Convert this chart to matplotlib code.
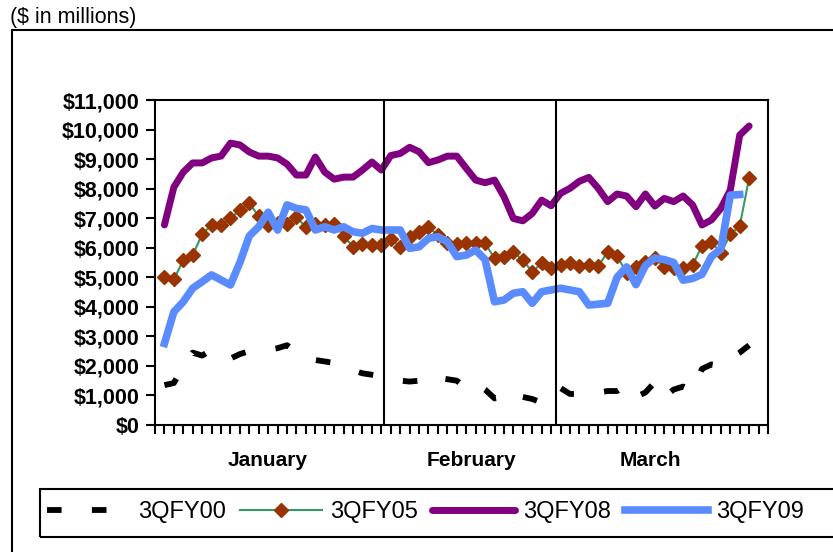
import matplotlib.pyplot as plt
import matplotlib.transforms as mtransforms
from matplotlib.patches import Rectangle
import numpy as np

plt.rcParams['font.family'] = ['Liberation Sans', 'DejaVu Sans']

# daily balances, $ in millions
fy00 = [1350, 1420, 2000, 2450, 2350, 2550, 2300, 2250, 2400, 2500,
        2550, 2550, 2600, 2700, 2450, 2300, 2200, 2150, 2100, 1950,
        1850, 1750, 1700, 1650, 1550, 1500, 1470, 1500, 1700, 1600,
        1550, 1500, 1250, 1400, 1200, 900, 950, 1150, 950, 880,
        760, 1150, 1250, 1050, 1050, 1100, 1100, 1150, 1150, 1350,
        950, 1100, 1450, 950, 1200, 1300, 1150, 1900, 2050, 2000,
        2250, 2450, 2700]
fy05 = [5020, 4930, 5580, 5750, 6460, 6770, 6770, 6990, 7280, 7500,
        7070, 6770, 6850, 6800, 7050, 6690, 6800, 6770, 6820, 6400,
        6030, 6130, 6090, 6100, 6300, 6030, 6370, 6540, 6690, 6430,
        6170, 6120, 6170, 6150, 6150, 5640, 5700, 5860, 5580, 5190,
        5470, 5300, 5410, 5490, 5380, 5410, 5380, 5860, 5720, 5150,
        5360, 5530, 5640, 5360, 5300, 5300, 5410, 6060, 6200, 5810,
        6460, 6730, 8370]
fy08 = [6770, 8050, 8560, 8870, 8870, 9040, 9100, 9540, 9480, 9240,
        9100, 9100, 9040, 8830, 8460, 8460, 9070, 8560, 8320, 8390,
        8390, 8630, 8900, 8630, 9120, 9190, 9400, 9250, 8880, 8970,
        9100, 9100, 8690, 8290, 8200, 8290, 7730, 6990, 6910, 7160,
        7610, 7420, 7840, 8010, 8250, 8380, 8010, 7560, 7820, 7750,
        7390, 7820, 7410, 7670, 7560, 7750, 7450, 6770, 6940, 7330,
        7950, 9810, 10120]
fy09 = [2760, 3830, 4170, 4630, 4850, 5080, 4910, 4740, 5500, 6400,
        6710, 7200, 6600, 7450, 7330, 7280, 6600, 6710, 6600, 6710,
        6540, 6490, 6650, 6600, 6600, 6600, 5980, 6030, 6320, 6370,
        6200, 5700, 5750, 5920, 5600, 4170, 4230, 4460, 4510, 4120,
        4510, 4570, 4630, 4570, 4510, 4060, 4090, 4120, 5000, 5350,
        4750, 5400, 5650, 5600, 5500, 4900, 4960, 5100, 5700, 5950,
        7780, 7800, np.nan]

series_names = ['3QFY00', '3QFY05', '3QFY08', '3QFY09']
months = ['January', 'February', 'March']
y_ticks = np.arange(0, 11001, 1000)

x = np.arange(len(fy08))

fig = plt.figure(figsize=(8.33, 5.52), dpi=100)
ax = fig.add_axes([155 / 833, 1 - 425 / 552, 613 / 833, 325 / 552])

ax.plot(x, fy00, color='black', lw=4.2, dashes=(2.5, 5.2), label=series_names[0])
ax.plot(x, fy05, color='#339966', lw=1.5, marker='D', ms=7,
        mfc='#993300', mec='#993300', label=series_names[1])
ax.plot(x, fy08, color='#800080', lw=5, solid_joinstyle='round',
        solid_capstyle='round', label=series_names[2])
ax.plot(x, fy09, color='#5A8CFF', lw=5.5, label=series_names[3])

# month separators
ax.axvline(23.3, color='black', lw=1.5)
ax.axvline(41.55, color='black', lw=1.5)

ax.set_xlim(-1, 64)
ax.set_ylim(0, 11000)
ax.set_xticks(np.arange(-1, 65))
ax.set_xticklabels([])
ax.set_yticks(y_ticks)
ax.set_yticklabels(['${:,.0f}'.format(v) for v in y_ticks],
                   fontsize=15.5, fontweight='bold')
ax.tick_params(axis='both', direction='out', length=6.5, width=1.5, pad=4.5)
for s in ax.spines.values():
    s.set_linewidth(1.5)

trans = mtransforms.blended_transform_factory(ax.transData, ax.transAxes)
for name, xm in zip(months, [10.9, 32.6, 51.5]):
    ax.text(xm, -0.108, name, transform=trans, ha='center', va='center',
            fontsize=15, fontweight='bold')

fig.text(10 / 833, 1 - 17 / 552, '($ in millions)', fontsize=15.5,
         ha='left', va='center')

# outer frame
fig.add_artist(Rectangle((12 / 833, -0.1), 1.2, 1 - 30 / 552 + 0.1,
                         transform=fig.transFigure, fill=False,
                         lw=1.5, ec='black'))
# legend box
fig.add_artist(Rectangle((40 / 833, 1 - 537 / 552), 1.0, 48 / 552,
                         transform=fig.transFigure, fill=False,
                         lw=1.5, ec='black'))

fig.legend(loc='center left', bbox_to_anchor=(47 / 833, 1 - 512 / 552),
           ncol=4, frameon=False, fontsize=17, handlelength=3.5,
           handletextpad=0.34, columnspacing=0.6, borderpad=0,
           borderaxespad=0)

fig.savefig('out.png', dpi=100)
